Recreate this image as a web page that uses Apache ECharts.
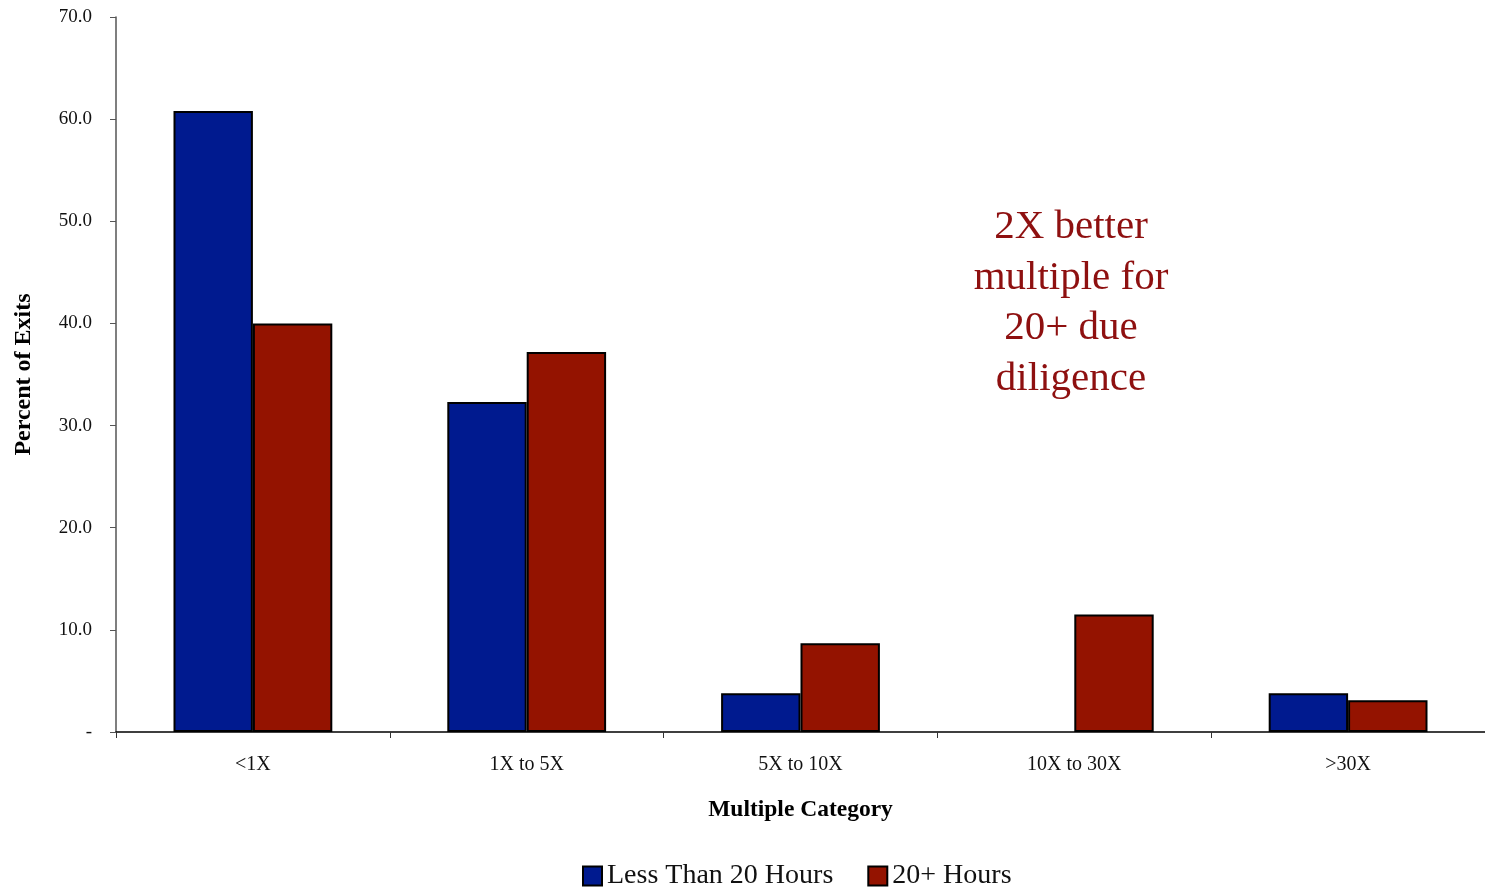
<!DOCTYPE html>
<html>
<head>
<meta charset="utf-8">
<script src="https://cdn.jsdelivr.net/npm/echarts@6/dist/echarts.min.js"></script>
<style>
  html, body { margin: 0; padding: 0; background: #fff; }
  #chart { width: 1485px; height: 887px; }
</style>
</head>
<body>
<div id="chart"></div>
<script>
// Share of exits by multiple category, split by due-diligence hours
const categories = ['<1X', '1X to 5X', '5X to 10X', '10X to 30X', '>30X'];
const lessThan20 = [60.8, 32.3, 3.8, 0, 3.8];
const twentyPlus = [40.0, 37.2, 8.7, 11.5, 3.1];
const seriesNames = ['Less Than 20 Hours', '20+ Hours'];
const noteLines = ['2X better', 'multiple for', '20+ due', 'diligence'];

const serif = '"Liberation Serif", "DejaVu Serif", serif';

// zero-height bars get no outline so they leave no stray line on the axis
const toBarData = arr => arr.map(v => (v === 0 ? { value: v, itemStyle: { borderWidth: 0 } } : v));

const chart = echarts.init(document.getElementById('chart'));
chart.setOption({
  animation: false,
  backgroundColor: '#ffffff',
  grid: { left: 116, right: 0, top: 17, bottom: 155, containLabel: false },
  legend: {
    top: 857,
    left: 577,
    itemWidth: 19,
    itemHeight: 19,
    itemGap: 34,
    icon: 'rect',
    textStyle: { fontFamily: serif, fontSize: 28, color: '#111' },
    data: seriesNames
  },
  xAxis: {
    type: 'category',
    data: categories,
    name: 'Multiple Category',
    nameLocation: 'middle',
    nameGap: 66,
    nameTextStyle: { fontFamily: serif, fontSize: 23.5, fontWeight: 'bold', color: '#000' },
    axisLine: { lineStyle: { color: '#000', width: 1.5 } },
    axisTick: { show: true, alignWithLabel: false, length: 6, lineStyle: { color: '#333' } },
    axisLabel: { fontFamily: serif, fontSize: 20, color: '#111', margin: 23 }
  },
  yAxis: {
    type: 'value',
    min: 0,
    max: 70,
    interval: 10,
    name: 'Percent of Exits',
    nameLocation: 'middle',
    nameGap: 80,
    nameTextStyle: { fontFamily: serif, fontSize: 24, fontWeight: 'bold', color: '#000' },
    axisLine: { show: true, lineStyle: { color: '#555', width: 1.5 } },
    axisTick: { show: true, inside: false, length: 6, lineStyle: { color: '#555' } },
    splitLine: { show: false },
    axisLabel: {
      fontFamily: serif, fontSize: 19, color: '#111', margin: 24,
      formatter: v => (v === 0 ? '-' : v.toFixed(1))
    }
  },
  series: [
    {
      name: seriesNames[0],
      type: 'bar',
      data: toBarData(lessThan20),
      barGap: '0%',
      barCategoryGap: '42%',
      itemStyle: { color: '#001a8f', borderColor: '#000', borderWidth: 2 }
    },
    {
      name: seriesNames[1],
      type: 'bar',
      data: toBarData(twentyPlus),
      itemStyle: { color: '#941300', borderColor: '#000', borderWidth: 2 }
    }
  ],
  graphic: [
    {
      type: 'text',
      x: 1071,
      y: 202,
      style: {
        text: noteLines.join('\n'),
        align: 'center',
        verticalAlign: 'top',
        font: '41px ' + serif,
        lineHeight: 50.5,
        fill: '#8e1010'
      }
    }
  ]
});
</script>
</body>
</html>
